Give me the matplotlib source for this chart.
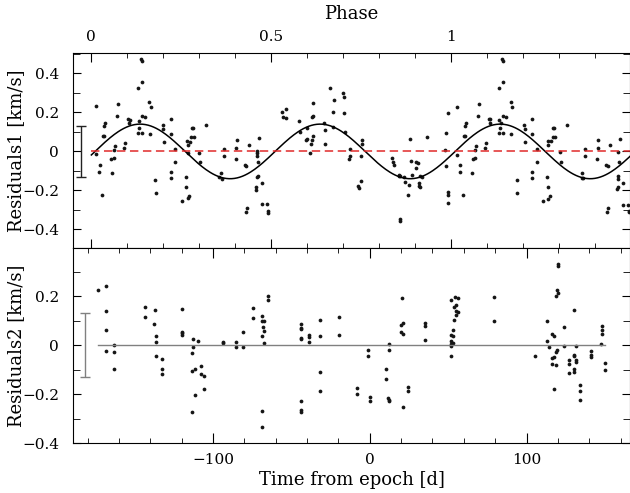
import matplotlib
matplotlib.use("Agg")
import matplotlib.pyplot as plt
from matplotlib.ticker import MultipleLocator, FixedLocator, FixedFormatter, FuncFormatter
import numpy as np

# ---- data: time from epoch [d], residual [km/s] ----
t1 = [-174.4, -174.6, -172.3, -172.9, -170.8, -170.2, -169.7, -169.7, -168.9, -164.9,
      -164.4, -163.4, -162.9, -162.5, -161.2, -160.6, -156.6, -156.1, -154.2, -153.8,
      -153.2, -148.1, -147.4, -147.4, -147.6, -146.1, -145.1, -145.5, -145.3, -145.5,
      -143.4, -140.6, -139.8, -140.2, -136.8, -136.4, -132.1, -131.7, -131.0, -127.0,
      -126.6, -126.6, -127.0, -124.2, -124.2, -120.0, -117.2, -117.0, -116.6, -115.9,
      -115.9, -115.7, -115.3, -114.4, -114.2, -113.2, -112.7, -112.1, -108.9, -108.5,
      -104.2,
      -95.1, -96.2, -94.4, -93.0, -92.7, -85.1, -84.4, -85.3, -79.6, -78.9,
      -77.2, -78.3, -78.9, -71.7, -71.7, -71.0, -72.1, -70.8, -71.3, -71.7,
      -72.3, -72.8, -68.5, -68.9, -65.5, -64.7, -65.1, -55.7, -55.1, -53.6,
      -53.2, -45.1, -44.5, -40.8, -40.2, -40.0, -38.1, -37.7, -36.8, -36.2,
      -36.8, -35.9, -36.2, -28.7, -28.3, -29.1, -25.1, -23.6, -23.0, -23.4,
      -17.0, -16.2, -16.6, -15.5, -12.3, -12.6, -13.0,
      -4.9, -5.1, -5.3, -7.2, -6.8, -5.7, 14.3, 14.7, 15.3, 18.7,
      18.9, 19.6, 21.7, 22.5, 25.1, 24.7, 25.5, 26.6, 27.2, 29.4,
      29.8, 30.6, 32.3, 31.7, 31.5, 32.1, 33.6, 36.4, 19.1, 19.6,
      47.9, 48.5, 48.9, 49.6, 49.6, 50.2, 50.0, 55.9, 55.5, 57.6,
      57.4, 59.6, 60.2, 60.6, 61.3, 60.8, 65.5, 65.9, 67.0, 67.2,
      67.6, 69.1, 69.6, 73.6, 74.2, 75.9, 76.8, 76.8,
      84.2, 85.3, 84.9, 82.3, 89.8, 90.6, 85.1, 87.0, 82.7, 83.4,
      83.0, 82.5, 84.9, 90.2, 93.6, 94.0, 98.3, 98.9, 99.1, 103.4,
      103.8, 106.4, 106.4, 103.2, 103.6, 110.4, 113.2, 113.6, 114.0, 114.7,
      114.0, 113.6, 115.7, 117.0, 117.2, 118.1, 117.6, 121.5, 121.7, 126.1,
      135.1, 135.5, 136.1, 137.6, 137.6, 145.5, 145.3, 145.1, 151.0, 151.7,
      153.2, 151.9, 151.5, 158.1, 158.5, 158.5, 157.8, 158.5, 159.5, 159.3,
      161.7, 161.7, 164.6, 165.1, 165.5]
r1 = [0.231, -0.015, -0.068, -0.104, -0.222, 0.080, 0.080, 0.130, 0.147, -0.038,
      -0.109, -0.032, 0.009, 0.027, 0.181, 0.243, 0.019, 0.044, 0.166, 0.144,
      0.162, 0.323, 0.157, 0.121, 0.096, 0.475, 0.463, 0.357, 0.183, 0.094,
      0.174, 0.253, 0.229, 0.087, -0.147, -0.215, 0.135, 0.113, 0.050, -0.104,
      -0.135, 0.164, 0.087, 0.014, -0.053, -0.255, -0.130, -0.183, 0.055, 0.031,
      -0.009, -0.241, -0.231, 0.050, 0.074, 0.121, 0.121, 0.074, -0.007, -0.056,
      0.135,
      -0.109, -0.133, -0.144, 0.012, -0.024, 0.019, 0.060, -0.038, -0.070, -0.077,
      0.032, -0.289, -0.309, 0.002, -0.010, -0.053, -0.021, 0.067, -0.125, -0.132,
      -0.185, -0.197, -0.161, -0.272, -0.272, -0.304, -0.316, 0.200, 0.178, 0.169,
      0.217, 0.157, 0.099, 0.058, 0.063, 0.120, -0.009, 0.036, 0.056, 0.079,
      0.176, 0.181, 0.250, 0.039, 0.111, 0.144, 0.325, 0.203, 0.262, 0.125,
      0.301, 0.280, 0.197, 0.099, 0.012, -0.022, -0.041,
      0.060, 0.038, -0.026, -0.178, -0.190, -0.154, -0.032, -0.055, -0.068, -0.120,
      -0.125, -0.128, -0.133, -0.159, -0.173, -0.221, 0.063, -0.050, -0.120, -0.087,
      -0.056, -0.060, -0.125, -0.161, -0.179, -0.185, -0.133, 0.074, -0.356, -0.347,
      0.007, -0.077, 0.096, 0.198, -0.207, -0.224, -0.263, 0.229, -0.017, -0.070,
      -0.104, -0.222, 0.080, 0.128, 0.147, 0.079, -0.109, -0.038, -0.032, 0.007,
      0.027, 0.181, 0.243, 0.017, 0.044, 0.168, 0.164, 0.144,
      0.474, 0.463, 0.357, 0.323, 0.253, 0.229, 0.183, 0.174, 0.159, 0.144,
      0.121, 0.097, 0.094, 0.087, -0.147, -0.215, 0.135, 0.113, 0.050, 0.087,
      0.164, 0.014, -0.053, -0.104, -0.135, -0.255, -0.132, -0.183, -0.243, -0.231,
      0.053, 0.031, 0.053, 0.072, 0.121, 0.074, 0.121, -0.005, -0.056, 0.133,
      -0.109, -0.135, -0.138, 0.012, -0.024, 0.058, 0.019, -0.038, -0.068, -0.077,
      0.031, -0.291, -0.309, -0.125, -0.140, -0.181, -0.195, -0.003, 0.065, -0.053,
      -0.161, -0.274, -0.274, -0.304, -0.313]

t2 = [-173.4, -168.3, -168.5, -168.5, -168.3, -163.2, -163.2, -163.4, -143.2, -143.2,
      -137.2, -137.4, -136.4, -136.4, -136.4, -132.5, -132.5, -132.5, -119.5, -119.5,
      -119.5, -119.5, -112.5, -109.6, -112.5, -113.4, -113.4, -111.7, -107.4, -107.4,
      -105.7, -105.7, -111.7, -113.4,
      -93.6, -93.6, -85.5, -85.5, -80.6, -80.6, -74.7, -74.7, -68.5, -68.5,
      -67.4, -67.9, -67.4, -68.5, -67.4, -64.7, -64.7, -68.5, -68.5, -43.6,
      -43.6, -43.6, -43.6, -43.6, -38.9, -38.9, -38.9, -43.6, -43.6, -43.6,
      -31.7, -31.7, -31.7, -31.7, -19.8, -19.8,
      -7.9, -7.9, -0.9, -0.9, 0.4, 0.4, 10.4, 10.4, 12.3, 12.3,
      11.5, 12.1, 12.3, 20.4, 20.2, 21.1, 20.2, 21.3, 21.1, 24.3,
      24.3, 35.3, 35.3, 35.1, 51.9, 54.2, 56.2, 55.1, 54.0, 55.1,
      56.2, 54.9, 54.0, 53.2, 52.1, 53.2, 52.1, 53.4, 52.1, 52.1,
      52.1, 79.1, 79.1,
      120.2, 120.2, 119.3, 120.2, 118.5, 130.4, 113.2, 124.2, 116.4, 117.4,
      113.2, 114.2, 119.3, 118.5, 117.4, 116.4, 116.4, 118.5, 105.3, 124.2,
      131.3, 130.2, 130.2, 131.3, 131.3, 127.2, 127.2, 130.2, 130.2, 127.0,
      117.4, 134.2, 134.2, 134.2, 141.2, 141.2, 141.2, 148.3, 148.3, 148.3,
      147.2, 150.2, 150.2]
r2 = [0.227, 0.241, 0.141, 0.063, -0.023, 0.001, -0.027, -0.098, 0.156, 0.116,
      0.144, 0.086, 0.037, 0.015, -0.045, -0.056, -0.095, -0.118, 0.147, 0.056,
      0.049, 0.044, 0.024, 0.019, -0.008, -0.033, -0.103, -0.097, -0.086, -0.118,
      -0.127, -0.177, -0.204, -0.272,
      0.014, 0.008, 0.014, -0.007, -0.005, 0.056, 0.151, 0.113, 0.121, 0.098,
      0.101, 0.076, 0.059, 0.037, 0.011, 0.203, 0.184, -0.267, -0.335, 0.087,
      0.072, 0.068, 0.029, 0.024, 0.041, 0.035, 0.015, -0.229, -0.264, -0.272,
      0.102, 0.039, -0.110, -0.185, 0.114, 0.044,
      -0.173, -0.200, -0.019, -0.044, -0.211, -0.229, -0.095, -0.136, 0.004, -0.020,
      -0.216, -0.223, -0.227, 0.195, 0.082, 0.090, 0.053, 0.045, -0.252, -0.170,
      -0.188, 0.091, 0.078, 0.022, 0.184, 0.196, 0.192, 0.166, 0.155, 0.141,
      0.135, 0.122, 0.102, 0.061, 0.044, 0.039, 0.019, 0.008, 0.007, -0.001,
      -0.045, 0.197, 0.098,
      0.333, 0.322, 0.226, 0.215, 0.203, 0.146, 0.099, 0.076, 0.045, 0.039,
      0.019, -0.005, -0.018, -0.029, -0.048, -0.053, -0.075, -0.079, -0.044, -0.003,
      -0.003, -0.039, -0.045, -0.060, -0.067, -0.060, -0.078, -0.097, -0.107, -0.114,
      -0.180, -0.163, -0.185, -0.222, -0.023, -0.039, -0.049, 0.080, 0.064, 0.048,
      0.007, -0.073, -0.101]

# orbital ephemeris and fitted sine (second harmonic) for panel 1
t0 = -177.6       # phase zero [d]
period = 229.7    # [d]
amp = 0.14        # [km/s]
psi = -0.13       # [rad]
rms = 0.13        # typical error bar [km/s]
xlim = (-189.3, 166.0)

plt.rcParams['font.family'] = ['DejaVu Serif']
plt.rcParams['font.size'] = 11
plt.rcParams['axes.labelsize'] = 13
plt.rcParams['axes.linewidth'] = 0.8

fig = plt.figure(figsize=(6.3, 4.93), dpi=100)
ax1 = fig.add_axes([0.1159, 0.4963, 0.8841, 0.3955])
ax2 = fig.add_axes([0.1159, 0.1008, 0.8841, 0.3955])


def num(v, pos=None):
    return "0" if abs(v) < 1e-9 else f"{v:g}".replace("-", "\u2212")


# ---- top panel ----
ax1.plot(t1, r1, "o", ms=2.7, color="#151515", mec="none")
ph = np.linspace(0, (xlim[1] - t0) / period, 400)
ax1.plot(t0 + ph * period, amp * np.sin(4 * np.pi * ph + psi), color="k", lw=1.1)
ax1.plot([t0, xlim[1]], [0, 0], color="#e02a2a", lw=1.1, ls=(0, (5.5, 3)))
ax1.errorbar([-184], [0], yerr=[rms], color="#222222", lw=1, capsize=3.5, capthick=1)
ax1.set_xlim(*xlim)
ax1.set_ylim(-0.497, 0.503)
ax1.xaxis.set_major_locator(FixedLocator([t0 + p * period for p in (0, 0.5, 1.0)]))
ax1.xaxis.set_major_formatter(FixedFormatter(["0", "0.5", "1"]))
ax1.xaxis.set_minor_locator(FixedLocator([t0 + 0.1 * k * period for k in range(16)]))
ax1.yaxis.set_major_locator(MultipleLocator(0.2))
ax1.yaxis.set_minor_locator(MultipleLocator(0.1))
ax1.yaxis.set_major_formatter(FuncFormatter(num))
ax1.tick_params(which="both", direction="in", top=True, bottom=True, left=True, right=True,
                labeltop=True, labelbottom=False)
ax1.tick_params(axis="x", which="major", length=6.5, pad=7)
ax1.tick_params(axis="x", which="minor", length=3.5)
ax1.tick_params(axis="y", which="major", length=6, pad=10)
ax1.tick_params(axis="y", which="minor", length=5)
ax1.xaxis.set_label_position("top")
ax1.set_xlabel("Phase", labelpad=8)
ax1.set_ylabel("Residuals1 [km/s]")
ax1.yaxis.set_label_coords(-0.086, 0.5)

# ---- bottom panel ----
ax2.plot(t2, r2, "o", ms=2.7, color="#151515", mec="none")
ax2.plot([-173.3, 150.2], [0, 0], color="#808080", lw=1)
ax2.errorbar([-181.5], [0], yerr=[rms], color="#808080", lw=1, capsize=3.5, capthick=1)
ax2.set_xlim(*xlim)
ax2.set_ylim(-0.4, 0.396)
ax2.xaxis.set_major_locator(MultipleLocator(100))
ax2.xaxis.set_minor_locator(MultipleLocator(20))
ax2.xaxis.set_major_formatter(FuncFormatter(num))
ax2.yaxis.set_major_locator(MultipleLocator(0.2))
ax2.yaxis.set_minor_locator(MultipleLocator(0.1))
ax2.yaxis.set_major_formatter(FuncFormatter(num))
ax2.tick_params(which="both", direction="in", top=True, bottom=True, left=True, right=True)
ax2.tick_params(axis="x", which="major", length=7, pad=7)
ax2.tick_params(axis="x", which="minor", length=3.5)
ax2.tick_params(axis="y", which="major", length=6, pad=10)
ax2.tick_params(axis="y", which="minor", length=5)
ax2.set_xlabel("Time from epoch [d]", labelpad=3)
ax2.set_ylabel("Residuals2 [km/s]")
ax2.yaxis.set_label_coords(-0.086, 0.5)

fig.savefig("out.png", dpi=100)
